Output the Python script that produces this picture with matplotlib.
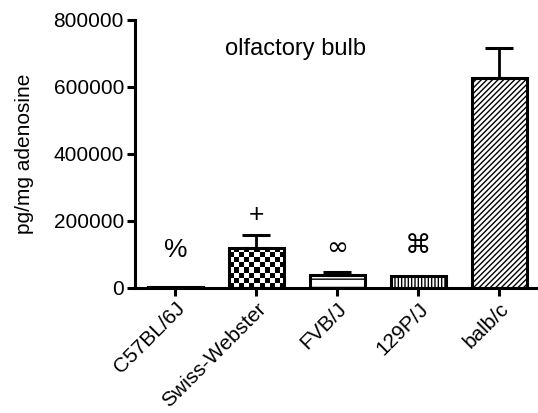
import numpy as np
import matplotlib
matplotlib.use("Agg")
import matplotlib.pyplot as plt

plt.rcParams['font.family'] = ['Liberation Sans', 'DejaVu Sans']
plt.rcParams['hatch.linewidth'] = 1.0

strains = ["C57BL/6J", "Swiss-Webster", "FVB/J", "129P/J", "balb/c"]
means = [3000, 120000, 37000, 36000, 625000]
errors = [0, 38000, 11000, 0, 92000]
marks = ["%", "+", "∞", "⌘", ""]
mark_y = [113000, 218000, 120000, 126000, 0]
hatches = [None, None, "--", "|||||", "//////"]
yticks = [0, 200000, 400000, 600000, 800000]

fig = plt.figure(figsize=(5.38, 4.13), dpi=100)
ax = fig.add_axes([0.251, 0.303, 0.749, 0.649])

x = np.arange(len(strains))
width = 0.68
bars = ax.bar(x, means, width=width, color="white", edgecolor="black", linewidth=2.2, zorder=2)
for b, h in zip(bars, hatches):
    if h:
        b.set_hatch(h)

# checkerboard for Swiss-Webster
b = bars[1]
b.set_facecolor("none")
checker = (np.indices((8, 11)).sum(axis=0) % 2).astype(float)
im = ax.imshow(checker, cmap="gray_r", extent=(b.get_x(), b.get_x() + b.get_width(), 0, b.get_height()),
               aspect="auto", interpolation="nearest", zorder=1.5, vmin=0, vmax=1)
im.set_clip_path(b)

for xi, m, e in zip(x, means, errors):
    if e > 0:
        ax.errorbar(xi, m, yerr=[[0], [e]], color="black", capsize=10, elinewidth=2, capthick=2.2, zorder=3)

for xi, s, y in zip(x, marks, mark_y):
    if s:
        ax.text(xi, y, s, ha="center", va="center", fontsize=19,
                family=['DejaVu Sans'] if s in "∞⌘" else ['Liberation Sans', 'DejaVu Sans'])

ax.text(1.48, 712000, "olfactory bulb", ha="center", va="center", fontsize=17)

ax.set_xlim(-0.5, 4.48)
ax.set_ylim(0, 800000)
ax.set_yticks(yticks)
ax.set_yticklabels([str(v) for v in yticks], fontsize=15)
ax.set_xticks(x)
ax.set_xticklabels(strains, rotation=45, ha="right", rotation_mode="anchor", fontsize=15)
ax.set_ylabel("pg/mg adenosine", fontsize=15, labelpad=14)

for s in ["top", "right"]:
    ax.spines[s].set_visible(False)
for s in ["left", "bottom"]:
    ax.spines[s].set_linewidth(2.2)
ax.tick_params(axis="both", width=2.2, length=6, direction="out", pad=2)

fig.savefig("out.png", dpi=100)
